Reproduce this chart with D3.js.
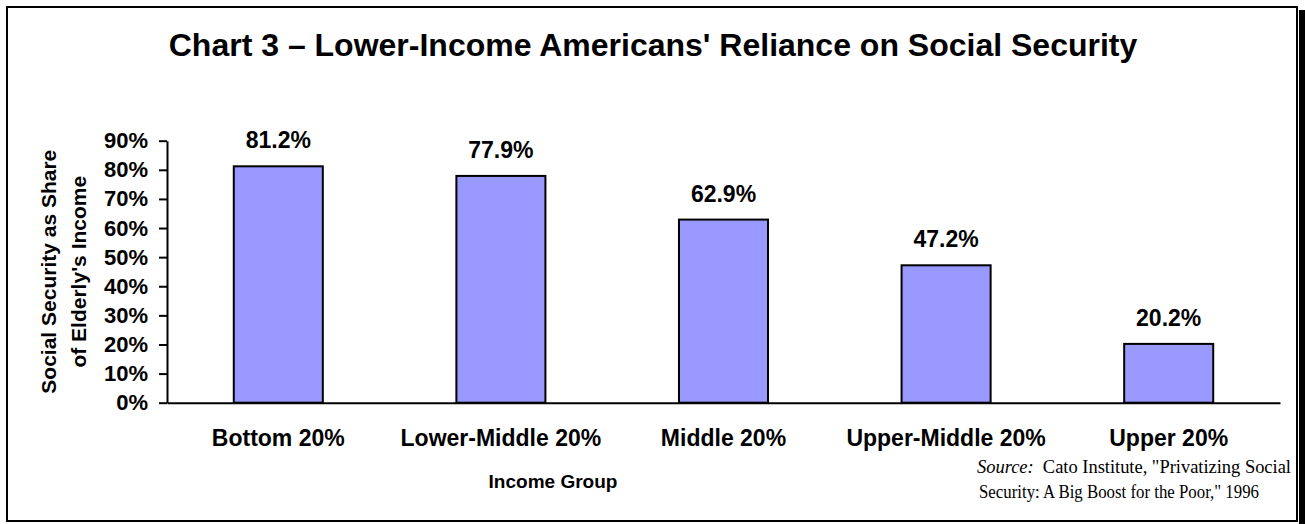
<!DOCTYPE html>
<html>
<head>
<meta charset="utf-8">
<script src="https://cdn.jsdelivr.net/npm/d3@7"></script>
<style>
    body { margin: 0; background: #fff; }
    svg text { font-family: Arial, 'Liberation Sans', sans-serif; }
    .source text { font-family: 'Liberation Serif', 'Times New Roman', serif; }
</style>
</head>
<body>
<div class="chart"></div>
<script>
const categories = ['Bottom 20%', 'Lower-Middle 20%', 'Middle 20%', 'Upper-Middle 20%', 'Upper 20%'];
const shares = [81.2, 77.9, 62.9, 47.2, 20.2];
const yTicks = [0, 10, 20, 30, 40, 50, 60, 70, 80, 90];

const WIDTH = 1305;
const HEIGHT = 524;
const MARGINS = { top: 140.7, right: 25, bottom: 121.3, left: 167 };

const svg = d3
    .select('.chart')
    .append('svg')
    .attr('width', WIDTH)
    .attr('height', HEIGHT);

// frame with drop shadow on the right
svg.append('rect')
    .attr('x', 1299).attr('y', 10)
    .attr('width', 6).attr('height', HEIGHT)
    .attr('fill', '#000');
svg.append('rect')
    .attr('x', 7).attr('y', 7)
    .attr('width', 1290).attr('height', 514)
    .attr('fill', '#fff')
    .attr('stroke', '#000')
    .attr('stroke-width', 2);

// title
svg.append('text')
    .attr('x', 653)
    .attr('y', 56)
    .attr('text-anchor', 'middle')
    .attr('font-size', 32)
    .attr('font-weight', 'bold')
    .text("Chart 3 \u2013 Lower-Income Americans' Reliance on Social Security");

// scales
const xScale = d3
    .scaleBand()
    .domain(categories)
    .range([MARGINS.left, WIDTH - MARGINS.right])
    .paddingInner(0.6)
    .paddingOuter(0.3);

const yScale = d3
    .scaleLinear()
    .domain([0, 90])
    .range([HEIGHT - MARGINS.bottom, MARGINS.top]);

// bars
svg.selectAll('.bar')
    .data(shares)
    .join('rect')
    .attr('class', 'bar')
    .attr('x', (d, i) => xScale(categories[i]))
    .attr('y', (d) => yScale(d))
    .attr('width', xScale.bandwidth())
    .attr('height', (d) => yScale(0) - yScale(d))
    .attr('fill', '#9999ff')
    .attr('stroke', '#000')
    .attr('stroke-width', 2);

// value labels
svg.selectAll('.label')
    .data(shares)
    .join('text')
    .attr('class', 'label')
    .attr('x', (d, i) => xScale(categories[i]) + xScale.bandwidth() / 2)
    .attr('y', (d) => yScale(d) - 18)
    .attr('text-anchor', 'middle')
    .attr('font-size', 23)
    .attr('font-weight', 'bold')
    .text((d) => `${d.toFixed(1)}%`);

// y axis
const yAxisEl = svg.append('g')
    .attr('transform', `translate(${MARGINS.left}, 0)`)
    .call(d3.axisLeft(yScale).tickValues(yTicks).tickSize(8).tickSizeOuter(0).tickPadding(11).tickFormat((d) => `${d}%`));
yAxisEl.select('.domain').attr('stroke-width', 2);
yAxisEl.selectAll('.tick line').attr('stroke-width', 2);
yAxisEl.selectAll('.tick text')
    .attr('font-size', 22)
    .attr('font-weight', 'bold')
    .attr('fill', '#000')
    .attr('font-family', 'Arial, "Liberation Sans", sans-serif');

// x axis (line only, labels below)
const xAxisEl = svg.append('g')
    .attr('transform', `translate(0, ${yScale(0)})`)
    .call(d3.axisBottom(xScale).tickSize(0).tickSizeOuter(0).tickPadding(0).tickFormat(''));
xAxisEl.select('.domain').attr('stroke-width', 2);

svg.selectAll('.cat')
    .data(categories)
    .join('text')
    .attr('class', 'cat')
    .attr('x', (d) => xScale(d) + xScale.bandwidth() / 2)
    .attr('y', 446)
    .attr('text-anchor', 'middle')
    .attr('font-size', 23)
    .attr('font-weight', 'bold')
    .text((d) => d);

// axis titles
svg.append('text')
    .attr('x', 553)
    .attr('y', 488)
    .attr('text-anchor', 'middle')
    .attr('font-size', 19)
    .attr('font-weight', 'bold')
    .text('Income Group');

const yTitle = svg.append('g')
    .attr('transform', `translate(0, ${yScale(45)}) rotate(-90)`);
yTitle.append('text')
    .attr('x', 0).attr('y', 56)
    .attr('text-anchor', 'middle')
    .attr('font-size', 21)
    .attr('font-weight', 'bold')
    .text('Social Security as Share');
yTitle.append('text')
    .attr('x', 0).attr('y', 86)
    .attr('text-anchor', 'middle')
    .attr('font-size', 21)
    .attr('font-weight', 'bold')
    .text("of Elderly's Income");

// source note
const source = svg.append('g').attr('class', 'source');
const line1 = source.append('text')
    .attr('x', 977)
    .attr('y', 473)
    .attr('font-size', 18.5)
    .attr('textLength', 314)
    .attr('lengthAdjust', 'spacing');
line1.append('tspan').attr('font-style', 'italic').text('Source:');
line1.append('tspan').text('\u00a0 Cato Institute, "Privatizing Social');
source.append('text')
    .attr('x', 979)
    .attr('y', 498)
    .attr('font-size', 18.5)
    .attr('textLength', 280)
    .attr('lengthAdjust', 'spacingAndGlyphs')
    .text('Security: A Big Boost for the Poor," 1996');
</script>
</body>
</html>
